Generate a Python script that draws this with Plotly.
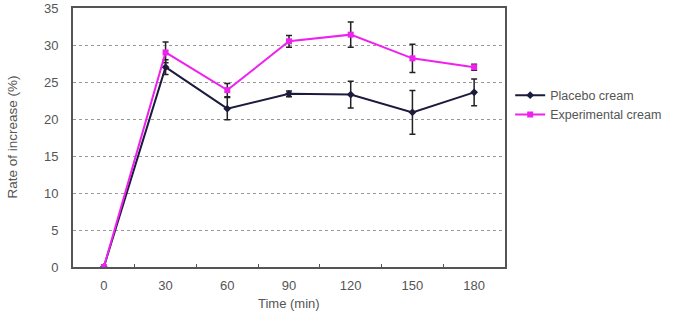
import plotly.graph_objects as go

time_min = [0, 30, 60, 90, 120, 150, 180]
placebo = [0, 27.0, 21.4, 23.4, 23.3, 20.9, 23.6]
placebo_err = [0, 1.0, 1.5, 0.4, 1.8, 2.95, 1.8]
experimental = [0, 29.0, 23.9, 30.5, 31.4, 28.2, 27.0]
experimental_err = [0, 1.4, 0.9, 0.8, 1.7, 1.9, 0.4]
x_ticks = [0, 30, 60, 90, 120, 150, 180]
x_minor = [15, 45, 75, 105, 135, 165]
y_ticks = [0, 5, 10, 15, 20, 25, 30, 35]

fig = go.Figure()
fig.add_trace(go.Scatter(
    x=time_min, y=placebo, name="Placebo cream", mode="lines+markers",
    line=dict(color="#1c1b3d", width=2),
    marker=dict(symbol="diamond", size=6, color="#1c1b3d"),
    error_y=dict(type="data", array=placebo_err, color="#222222", thickness=1.5, width=3),
))
fig.add_trace(go.Scatter(
    x=time_min, y=experimental, name="Experimental cream", mode="lines+markers",
    line=dict(color="#ee22ee", width=2),
    marker=dict(symbol="square", size=6, color="#ee22ee"),
    error_y=dict(type="data", array=experimental_err, color="#222222", thickness=1.5, width=3),
))

fig.update_layout(
    width=680, height=311,
    margin=dict(l=73, r=175, t=8, b=44, autoexpand=False),
    paper_bgcolor="white", plot_bgcolor="white",
    font=dict(family="Liberation Sans, Arial, sans-serif", color="#555555", size=13),
    legend=dict(x=1.012, y=0.72, xanchor="left", yanchor="top",
                font=dict(size=12.5, color="#555555"), bgcolor="rgba(0,0,0,0)",
                tracegroupgap=0, itemwidth=30),
    showlegend=True,
    annotations=[
        dict(text="Time (min)", xref="paper", yref="paper", x=0.5, y=-0.142,
             xanchor="center", yanchor="middle", showarrow=False,
             font=dict(size=13, color="#555555")),
        dict(text="Rate of increase (%)", xref="paper", yref="paper", x=-0.141, y=0.5,
             xanchor="center", yanchor="middle", textangle=-90, showarrow=False,
             font=dict(size=13.5, color="#555555")),
    ],
)
fig.update_xaxes(
    range=[-15, 195], tickvals=x_ticks, ticktext=[str(v) for v in x_ticks],
    showgrid=False, zeroline=False, automargin=False,
    showline=True, linecolor="#555555", linewidth=2, mirror=True,
    ticks="outside", ticklen=5, tickcolor="rgba(0,0,0,0)",
    minor=dict(tickvals=x_minor, ticks="inside", ticklen=3, tickcolor="#555555", showgrid=False),
    tickfont=dict(size=13, color="#555555"),
)
fig.update_yaxes(
    range=[0, 35], tickvals=y_ticks, ticktext=[str(v) for v in y_ticks],
    showgrid=True, gridcolor="#999999", griddash="3px,3px", gridwidth=1,
    zeroline=False, automargin=False,
    showline=True, linecolor="#555555", linewidth=2, mirror=True,
    ticks="outside", ticklen=10, tickcolor="rgba(0,0,0,0)",
    tickfont=dict(size=13, color="#555555"),
)

fig.write_html("out.html")
